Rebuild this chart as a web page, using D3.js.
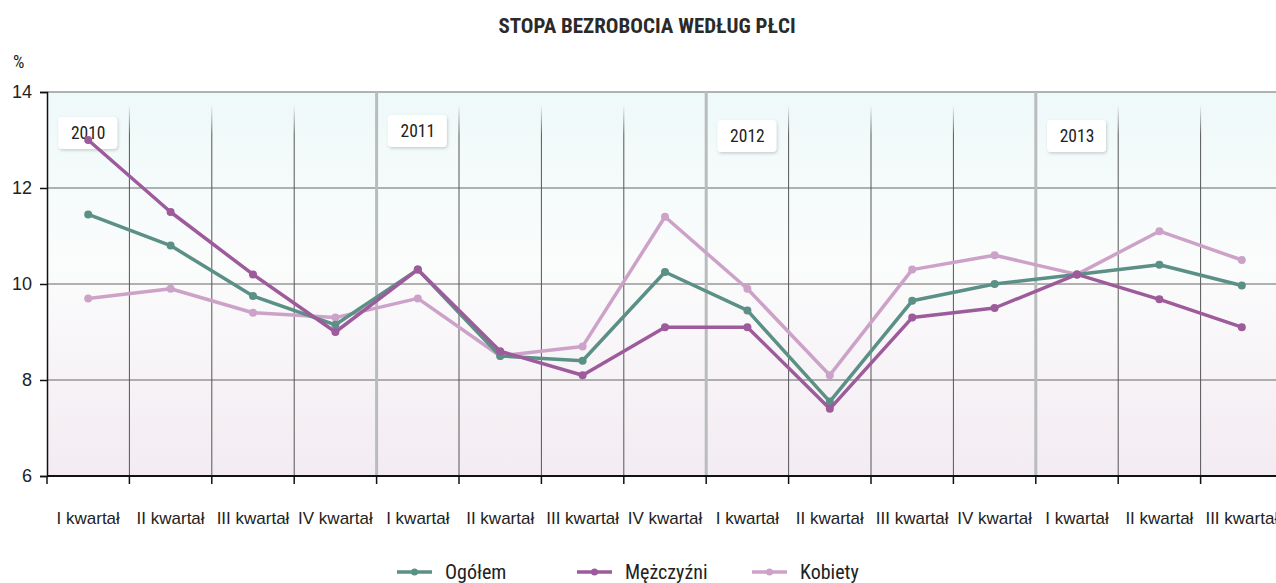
<!DOCTYPE html>
<html><head><meta charset="utf-8">
<script src="https://cdn.jsdelivr.net/npm/d3@7/dist/d3.min.js"></script>
<style>
body{margin:0;background:#fff;}
svg{display:block;}
text{font-family:"Liberation Sans Narrow","Arial Narrow","Roboto Condensed","Liberation Sans",sans-serif;fill:#222;}
</style></head>
<body>
<svg id="chart" width="1276" height="583"></svg>
<script>
const years = ["2010","2011","2012","2013"];
const quarters = ["I kwartał","II kwartał","III kwartał","IV kwartał"];
const categories = ["2010-I","2010-II","2010-III","2010-IV","2011-I","2011-II","2011-III","2011-IV","2012-I","2012-II","2012-III","2012-IV","2013-I","2013-II","2013-III"];
const categoryLabels = ["I kwartał","II kwartał","III kwartał","IV kwartał","I kwartał","II kwartał","III kwartał","IV kwartał","I kwartał","II kwartał","III kwartał","IV kwartał","I kwartał","II kwartał","III kwartał"];
const ogolem = [11.45,10.8,9.75,9.15,10.3,8.5,8.4,10.25,9.45,7.55,9.65,10.0,10.2,10.4,9.97];
const mezczyzni = [13.0,11.5,10.2,9.0,10.3,8.6,8.1,9.1,9.1,7.4,9.3,9.5,10.2,9.68,9.1];
const kobiety = [9.7,9.9,9.4,9.3,9.7,8.5,8.7,11.4,9.9,8.1,10.3,10.6,10.2,11.1,10.5];
const seriesNames = ["Ogółem","Mężczyźni","Kobiety"];
const yTicks = [6,8,10,12,14];
const title = "STOPA BEZROBOCIA WEDŁUG PŁCI";
const yUnit = "%";

const colors = ["#5b9087","#9d5b9b","#cda2c8"];
const series = [ogolem, mezczyzni, kobiety];

const svg = d3.select("#chart");
const mLeft = 47, mRight = 1283, mTop = 92, mBottom = 476;

const x = d3.scaleBand().domain(categories).range([mLeft, mRight]).padding(0);
const y = d3.scaleLinear().domain([6,14]).range([mBottom, mTop]);

const defs = svg.append("defs");
const bg = defs.append("linearGradient").attr("id","bg").attr("x1",0).attr("y1",0).attr("x2",0).attr("y2",1);
bg.append("stop").attr("offset","0%").attr("stop-color","#eef9f9");
bg.append("stop").attr("offset","45%").attr("stop-color","#fbfcfc");
bg.append("stop").attr("offset","100%").attr("stop-color","#f3ebf2");
const vg = defs.append("linearGradient").attr("id","vg").attr("gradientUnits","userSpaceOnUse")
  .attr("x1",0).attr("y1",105).attr("x2",0).attr("y2",135);
vg.append("stop").attr("offset","0%").attr("stop-color","#555").attr("stop-opacity",0);
vg.append("stop").attr("offset","100%").attr("stop-color","#555").attr("stop-opacity",1);
const sh = defs.append("filter").attr("id","sh").attr("x","-20%").attr("y","-20%").attr("width","140%").attr("height","150%");
sh.append("feDropShadow").attr("dx",1).attr("dy",1.5).attr("stdDeviation",1.5).attr("flood-color","#000").attr("flood-opacity",0.18);

svg.append("rect").attr("x",mLeft).attr("y",mTop).attr("width",mRight-mLeft).attr("height",mBottom-mTop).attr("fill","url(#bg)");

// horizontal grid
svg.append("g").selectAll("line").data(yTicks.filter(d=>d>6)).join("line")
  .attr("x1",mLeft).attr("x2",mRight).attr("y1",d=>y(d)).attr("y2",d=>y(d))
  .attr("stroke",d=>d===14?"#999":"#666").attr("stroke-width",d=>d===14?1.5:1);

// vertical quarter grid
const boundaries = categories.map(c=>x(c)).filter((v,i)=>i>0 && i%4!==0);
svg.append("g").selectAll("rect").data(boundaries).join("rect")
  .attr("x",d=>d-0.5).attr("width",1).attr("y",105).attr("height",mBottom-105)
  .attr("fill","url(#vg)");

// year separators
const yearBounds = [4,8,12].map(i=>x(categories[i]));
svg.append("g").selectAll("line").data(yearBounds).join("line")
  .attr("x1",d=>d).attr("x2",d=>d).attr("y1",mTop).attr("y2",mBottom)
  .attr("stroke","#b9bcbc").attr("stroke-width",3);

// axes
const yAxis = d3.axisLeft(y).tickValues(yTicks).tickSize(7).tickPadding(8);
const gy = svg.append("g").attr("transform",`translate(${mLeft},0)`).call(yAxis);
gy.select(".domain").attr("stroke","#111").attr("stroke-width",1.5);
gy.selectAll(".tick line").attr("stroke","#111").attr("stroke-width",1.5);
gy.selectAll(".tick text").attr("font-size",18).attr("fill","#222")
  .style("font-family","'Liberation Sans Narrow','Arial Narrow',sans-serif");

const xAxis = d3.axisBottom(x).tickFormat((d,i)=>categoryLabels[i]).tickSize(0).tickPadding(36);
const gx = svg.append("g").attr("transform",`translate(0,${mBottom})`).call(xAxis);
gx.select(".domain").remove();
gx.selectAll(".tick text").attr("font-size",17).attr("fill","#222")
  .style("font-family","'Liberation Sans Narrow','Arial Narrow',sans-serif");
svg.append("line").attr("x1",mLeft).attr("x2",mRight).attr("y1",mBottom).attr("y2",mBottom).attr("stroke","#111").attr("stroke-width",2);
svg.append("g").selectAll("line").data(categories.map(c=>x(c))).join("line")
  .attr("x1",d=>d).attr("x2",d=>d).attr("y1",mBottom).attr("y2",mBottom+8)
  .attr("stroke","#111").attr("stroke-width",1.5);

// year labels
const yearLabelY = [133,131,136,136];
years.forEach((yr,i)=>{
  const cx = x(categories[i*4]) + x.bandwidth()*0.5;
  const g = svg.append("g").attr("transform",`translate(${cx},${yearLabelY[i]})`);
  g.append("rect").attr("x",-30).attr("y",-16).attr("width",59).attr("height",32).attr("rx",4)
    .attr("fill","#fff").attr("filter","url(#sh)");
  g.append("text").attr("text-anchor","middle").attr("dy","0.35em").attr("font-size",17.5).text(yr);
});

// lines
const line = d3.line().x((d,i)=>x(categories[i])+x.bandwidth()/2).y(d=>y(d));
[2,0,1].forEach(si=>{
  const g = svg.append("g");
  g.append("path").datum(series[si]).attr("d",line).attr("fill","none")
    .attr("stroke",colors[si]).attr("stroke-width",3.5).attr("stroke-linejoin","round");
  g.selectAll("circle").data(series[si]).join("circle")
    .attr("cx",(d,i)=>x(categories[i])+x.bandwidth()/2).attr("cy",d=>y(d)).attr("r",4)
    .attr("fill",colors[si]);
});

// title
svg.append("text").attr("x",647).attr("y",33).attr("text-anchor","middle").attr("font-size",21)
  .attr("font-weight","bold").style("fill","#2a2a2a").text(title);
svg.append("text").attr("x",13).attr("y",68).attr("font-size",18).text(yUnit);

// legend
const legendX = [397,577,752];
seriesNames.forEach((n,i)=>{
  const g = svg.append("g").attr("transform",`translate(${legendX[i]},572)`);
  g.append("line").attr("x1",0).attr("x2",35).attr("stroke",colors[i]).attr("stroke-width",3.5);
  g.append("circle").attr("cx",17.5).attr("r",3.5).attr("fill",colors[i]);
  g.append("text").attr("x",48).attr("dy","0.35em").attr("font-size",20).text(n);
});
</script>
</body></html>
